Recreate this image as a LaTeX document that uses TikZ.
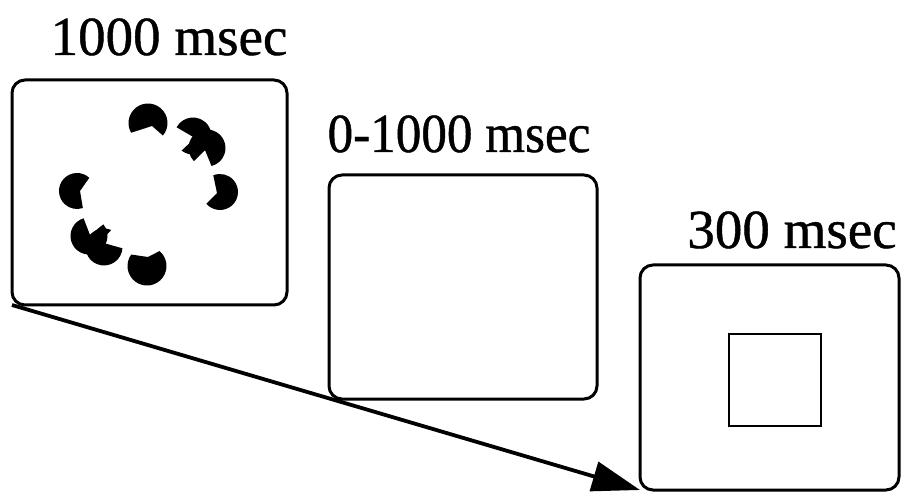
\documentclass[tikz,border=0pt]{standalone}
\usepackage{fontspec}
\setmainfont{Liberation Serif}
\newfontfamily\durfont[FakeBold=0.8]{Liberation Serif}
\usetikzlibrary{arrows.meta,calc}

% filled inducer: centre, radius, apex of the cut, start and end angle of the kept arc
\newcommand\pacman[5]{%
  \fill #3 -- ($#1+(#4:#2)$) arc[start angle=#4, end angle=#5, radius=#2] -- cycle;}

\begin{document}
\begin{tikzpicture}[x=0.5pt, y=-0.5pt,
  frame/.style={draw, line width=1.5pt, rounded corners=6.5pt, inner sep=0pt, outer sep=0pt},
  lbl/.style={font=\durfont\fontsize{27.5}{33}\selectfont, inner sep=0pt, anchor=base}]
\useasboundingbox (0,0) rectangle (901,492);

% the three screens
\node[frame, minimum width=137.5pt, minimum height=112.5pt] (b1) at (149.5,192.5) {};
\node[frame, minimum width=134pt,   minimum height=112pt]   (b2) at (463,287) {};
\node[frame, minimum width=129.5pt, minimum height=112.5pt] (b3) at (769.5,377.5) {};
\node[draw, line width=1.4pt, minimum size=46pt, inner sep=0pt] (sq) at (775,380) {};

% durations
\node[lbl] (t1) at (169,55)  {1000 msec};
\node[lbl, xscale=0.93] (t2) at (459,152) {0-1000 msec};
\node[lbl] (t3) at (792,248) {300 msec};

% inducers in the first screen
\pacman{(148,123)}{19.5}{(152,126)}{40}{-210}
\pacman{(193,136)}{18.5}{(195,138)}{128}{-152}
\pacman{(207,148)}{18.5}{(205,150)}{76}{-225}
\pacman{(220,192)}{18}{(217,193)}{139}{-112}
\pacman{(77,191)}{18}{(80,191)}{-47}{-289}
\pacman{(89,236)}{18.5}{(90,235)}{-107}{-399}
\pacman{(104,247)}{18.5}{(100,242)}{-67}{-356}
\pacman{(147,266)}{19.5}{(148,257)}{-144}{-410}

% time axis
\draw[line width=1.9pt, -{Triangle[length=24pt, width=15pt]}] (b1.south west) -- (b3.south west);
\end{tikzpicture}
\end{document}
